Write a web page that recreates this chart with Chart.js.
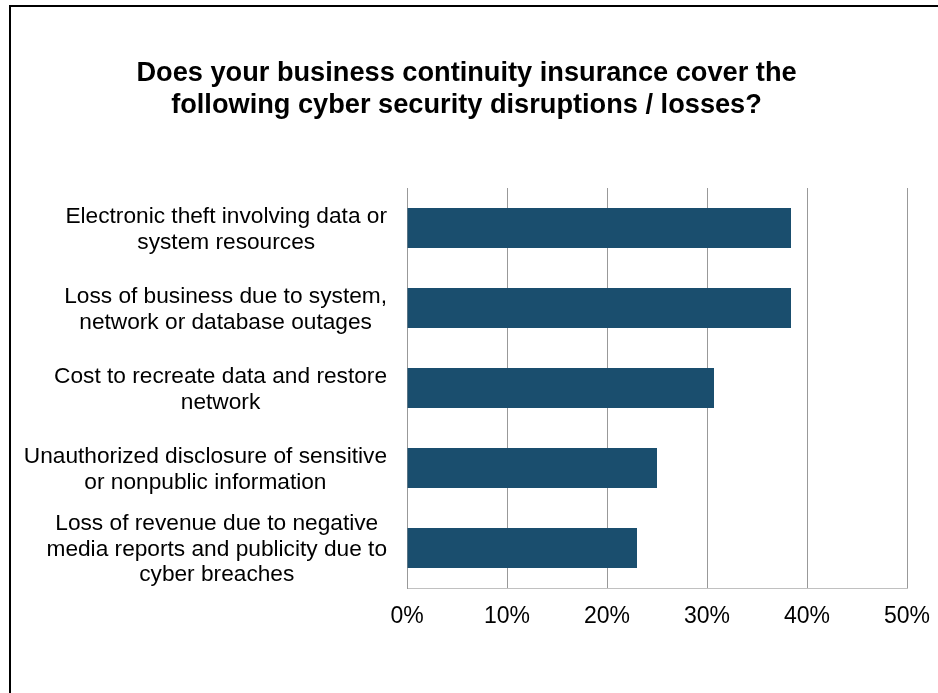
<!DOCTYPE html>
<html><head><meta charset="utf-8">
<script src="https://cdn.jsdelivr.net/npm/chart.js@4.4.1/dist/chart.umd.min.js"></script>
<style>
html,body{margin:0;padding:0;background:#fff;}
#wrap{position:relative;width:938px;height:693px;overflow:hidden;}
#frame{position:absolute;left:9px;top:5px;width:940px;height:700px;border-left:2px solid #000;border-top:2px solid #000;pointer-events:none;}
canvas{position:absolute;left:0;top:0;}
</style></head><body>
<div id="wrap"><canvas id="c" width="938" height="693" style="width:938px;height:693px"></canvas><div id="frame"></div></div>
<script>
const titleLines = ["Does your business continuity insurance cover the", "following cyber security disruptions / losses?"];
const categories = [
  ["Electronic theft involving data or", "system resources"],
  ["Loss of business due to system,", "network or database outages"],
  ["Cost to recreate data and restore", "network"],
  ["Unauthorized disclosure of sensitive", "or nonpublic information"],
  ["Loss of revenue due to negative", "media reports and publicity due to", "cyber breaches"]
];
const values = [38.4, 38.4, 30.7, 25.0, 23.0];
const xMin = 0, xMax = 50, xStep = 10;

const FONT = '"Liberation Sans", Arial, sans-serif';

const yLabelPlugin = {
  id: 'yLabels',
  afterDraw(chart) {
    const ctx = chart.ctx, ys = chart.scales.y;
    ctx.save();
    ctx.font = '22.7px ' + FONT;
    ctx.fillStyle = '#000';
    ctx.textAlign = 'center';
    ctx.textBaseline = 'middle';
    const lh = 25.5;
    categories.forEach((lines, i) => {
      const yc = ys.getPixelForValue(i) + 1.5;
      const w = Math.max(...lines.map(l => ctx.measureText(l).width));
      const cx = ys.right - 20 - w / 2;
      lines.forEach((l, j) => ctx.fillText(l, cx, yc + (j - (lines.length - 1) / 2) * lh));
    });
    ctx.restore();
  }
};

new Chart(document.getElementById('c'), {
  type: 'bar',
  data: {
    labels: categories,
    datasets: [{
      data: values,
      backgroundColor: '#1a4e6e',
      borderWidth: 0,
      barPercentage: 0.5,
      categoryPercentage: 1.0
    }]
  },
  options: {
    indexAxis: 'y',
    responsive: false,
    animation: false,
    layout: { padding: { left: 26, right: 31, top: 0, bottom: 0 } },
    plugins: {
      legend: { display: false },
      tooltip: { enabled: false },
      title: {
        display: true,
        text: titleLines,
        color: '#000',
        font: { family: FONT, size: 27.2, weight: 'bold', lineHeight: 32 / 27.2 },
        padding: { top: 58, bottom: 66 }
      }
    },
    scales: {
      x: {
        min: xMin, max: xMax,
        ticks: {
          stepSize: xStep,
          callback: v => v + '%',
          color: '#000',
          font: { family: FONT, size: 23 },
          padding: 15,
          maxRotation: 0
        },
        grid: { color: '#999999', lineWidth: 1, drawTicks: false },
        border: { display: true, color: '#c0c0c0', width: 1 },
        afterFit(s) { s.height = 105; s.paddingLeft = 0; s.paddingRight = 0; }
      },
      y: {
        ticks: { display: false },
        grid: { display: false, drawTicks: false },
        border: { display: true, color: '#999999', width: 1 },
        afterFit(s) { s.width = 381; s.paddingTop = 0; s.paddingBottom = 0; }
      }
    }
  },
  plugins: [yLabelPlugin]
});
</script>
</body></html>
